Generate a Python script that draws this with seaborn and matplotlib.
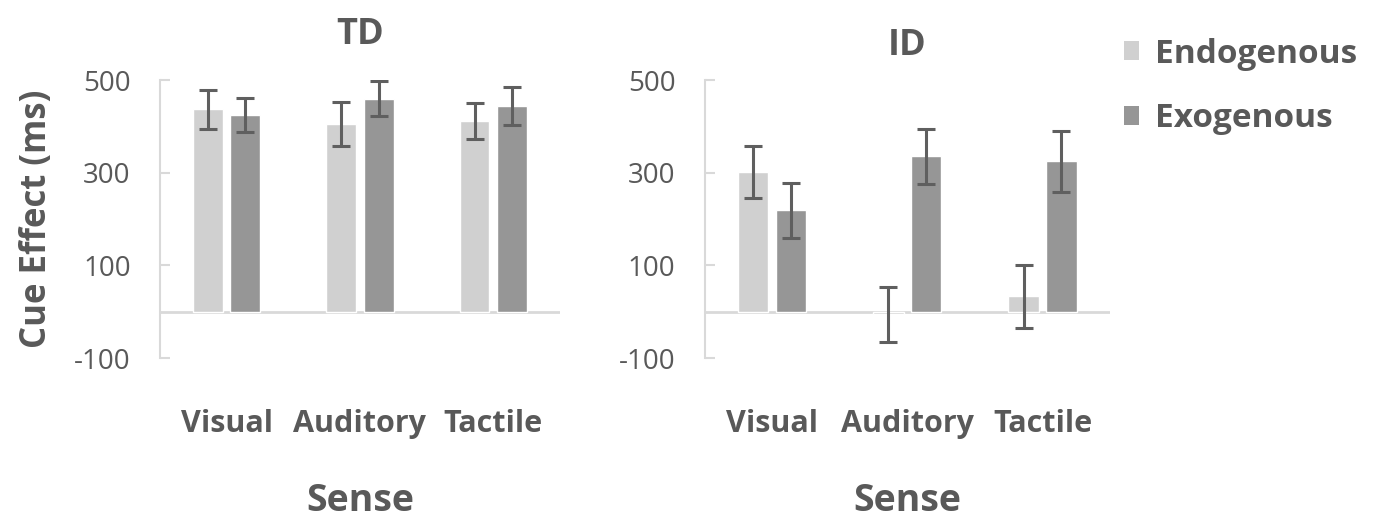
import matplotlib
matplotlib.use("Agg")
import matplotlib.pyplot as plt
from matplotlib.patches import Patch
import seaborn as sns
import pandas as pd

# --- data ---
senses = ["Visual", "Auditory", "Tactile"]
cues = ["Endogenous", "Exogenous"]

td_endo = [437, 405, 411]
td_exo = [424, 460, 444]
td_endo_err = [42, 48, 39]
td_exo_err = [37, 38, 40]

id_endo = [302, -6, 33]
id_exo = [219, 335, 325]
id_endo_err = [56, 60, 68]
id_exo_err = [59, 60, 66]

groups = ["TD", "ID"]
yticks = [-100, 100, 300, 500]

TXT = "#595959"
GRID = "#d9d9d9"
palette = {"Endogenous": "#d0d0d0", "Exogenous": "#969696"}

sns.set_theme(style="white")
plt.rcParams["font.family"] = ["Open Sans", "DejaVu Sans"]
plt.rcParams["axes.unicode_minus"] = False


def make_frame(endo, exo, endo_err, exo_err):
    return pd.DataFrame({
        "Sense": senses * 2,
        "Cue": [cues[0]] * 3 + [cues[1]] * 3,
        "Effect": endo + exo,
        "Err": endo_err + exo_err,
    })


frames = {
    "TD": make_frame(td_endo, td_exo, td_endo_err, td_exo_err),
    "ID": make_frame(id_endo, id_exo, id_endo_err, id_exo_err),
}

fig = plt.figure(figsize=(13.79, 5.2), dpi=100)
axes = [
    fig.add_axes([0.116, 0.3115, 0.290, 0.5346]),
    fig.add_axes([0.511, 0.3115, 0.294, 0.5346]),
]
title_pads = {"TD": 26, "ID": 18}

for ax, name in zip(axes, groups):
    df = frames[name]
    sns.barplot(data=df, x="Sense", y="Effect", hue="Cue", order=senses,
                hue_order=cues, palette=palette, width=0.56, gap=0.2,
                errorbar=None, legend=False, saturation=1, ax=ax)

    # error bars at the centre of each drawn bar
    for cue, cont in zip(cues, ax.containers):
        sub = df[df["Cue"] == cue].set_index("Sense").loc[senses]
        xs = [b.get_x() + b.get_width() / 2 for b in cont]
        ax.errorbar(xs, sub["Effect"], yerr=sub["Err"], fmt="none",
                    ecolor="#5f5f5f", elinewidth=2.2, capsize=6.5,
                    capthick=2.2, zorder=3)

    ax.axhline(0, color=GRID, lw=2, zorder=0.5)
    ax.set_xlim(-0.5, 2.5)
    ax.set_ylim(-100, 500)
    ax.set_yticks(yticks)
    ax.tick_params(axis="y", direction="in", length=7, width=1.5,
                   color=GRID, labelsize=20, labelcolor=TXT, pad=21, left=True)
    ax.tick_params(axis="x", length=0, labelsize=22, labelcolor=TXT, pad=37)
    for lab in ax.get_xticklabels():
        lab.set_fontweight("bold")
    for side in ["top", "right", "bottom"]:
        ax.spines[side].set_visible(False)
    ax.spines["left"].set_color(GRID)
    ax.spines["left"].set_linewidth(1.5)
    ax.set_xlabel("Sense", fontsize=27, fontweight="bold", color=TXT, labelpad=31)
    ax.set_ylabel("")
    ax.set_title(name, fontsize=26, fontweight="bold", color=TXT,
                 pad=title_pads[name])

axes[0].set_ylabel("Cue Effect (ms)", fontsize=25, fontweight="bold",
                   color=TXT, labelpad=14)

handles = [Patch(facecolor=palette[c], edgecolor="none") for c in cues]
leg = fig.legend(handles, cues, loc="upper left", bbox_to_anchor=(0.793, 0.985),
                 frameon=False, handlelength=0.45, handleheight=0.5,
                 handletextpad=0.5, labelspacing=0.95,
                 prop={"size": 24, "weight": "bold"})
for t in leg.get_texts():
    t.set_color(TXT)

fig.savefig("out.png", dpi=100)
